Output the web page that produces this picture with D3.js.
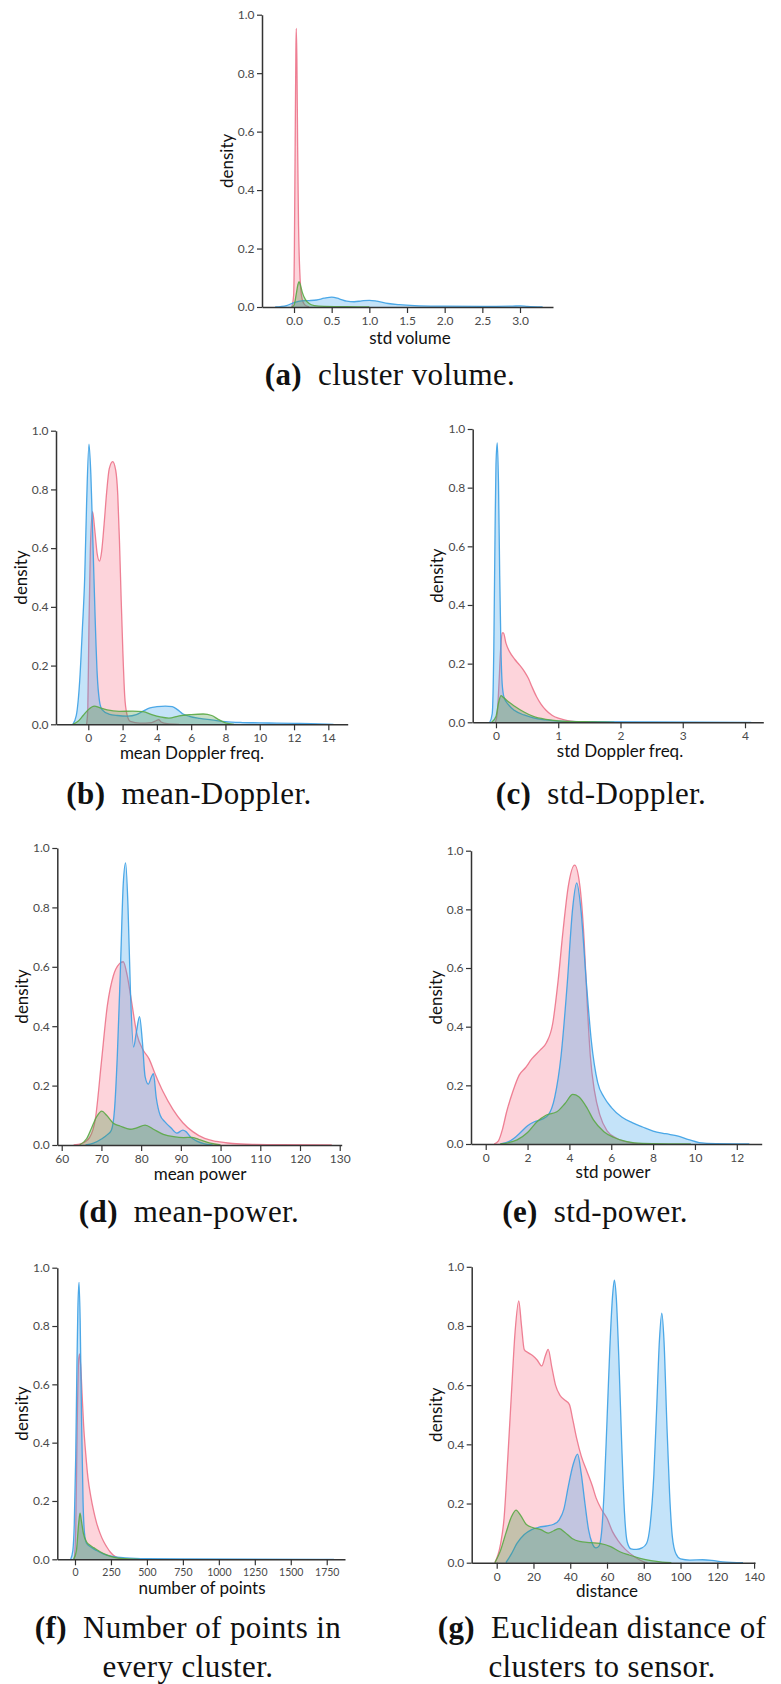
<!DOCTYPE html>
<html>
<head>
<meta charset="utf-8">
<script src="https://cdn.jsdelivr.net/npm/d3@7"></script>
<style>
  body { margin: 0; background: #fff; }
  svg { display: block; }
</style>
</head>
<body>
<svg id="fig" width="781" height="1684"></svg>
<script>
// ---- Kernel density estimates per class: [value, density] ----

// (a) std volume
const volPink  = [[-0.03,0],[-0.005,0.04],[0.005,0.2],[0.015,0.55],[0.025,0.88],[0.03,0.953],[0.038,0.85],[0.048,0.55],[0.06,0.28],[0.075,0.13],[0.09,0.06],[0.11,0.025],[0.14,0.008],[0.2,0]];
const volGreen = [[-0.03,0],[0.0,0.006],[0.03,0.045],[0.05,0.075],[0.066,0.087],[0.085,0.075],[0.11,0.05],[0.15,0.026],[0.2,0.012],[0.27,0.005],[0.4,0.002],[0.7,0.001],[1.0,0]];
const volBlue  = [[-0.25,0],[-0.1,0.005],[0.0,0.015],[0.1,0.021],[0.2,0.022],[0.3,0.024],[0.4,0.03],[0.5,0.034],[0.6,0.028],[0.7,0.02],[0.8,0.018],[0.9,0.021],[1.0,0.023],[1.1,0.02],[1.25,0.012],[1.4,0.008],[1.6,0.005],[2.0,0.003],[2.5,0.002],[2.9,0.003],[3.0,0.004],[3.1,0.002],[3.3,0]];

// (b) mean Doppler frequency
const mdBlue  = [[-0.9,0],[-0.7,0.03],[-0.5,0.15],[-0.35,0.32],[-0.21,0.5],[-0.1,0.75],[0.04,0.954],[0.15,0.85],[0.27,0.62],[0.4,0.36],[0.52,0.17],[0.65,0.08],[0.8,0.05],[1.2,0.035],[1.7,0.03],[2.3,0.028],[2.8,0.033],[3.2,0.045],[3.6,0.056],[4.0,0.06],[4.5,0.062],[4.9,0.06],[5.2,0.05],[5.5,0.036],[5.9,0.027],[6.5,0.02],[7.2,0.015],[8,0.009],[9,0.006],[10,0.005],[11,0.004],[12,0.003],[13,0.002],[14.3,0]];
const mdPink  = [[-0.1,0],[-0.03,0.05],[0.03,0.3],[0.12,0.6],[0.25,0.724],[0.38,0.66],[0.52,0.58],[0.65,0.556],[0.78,0.59],[0.92,0.68],[1.07,0.79],[1.22,0.87],[1.42,0.895],[1.6,0.865],[1.72,0.78],[1.82,0.62],[1.92,0.42],[2.02,0.24],[2.12,0.1],[2.25,0.035],[2.45,0.01],[3.0,0.004],[3.7,0.006],[3.95,0.012],[4.1,0.016],[4.25,0.008],[4.6,0.002],[5.3,0]];
const mdGreen = [[-0.9,0],[-0.6,0.01],[-0.3,0.03],[0.0,0.05],[0.35,0.062],[0.7,0.056],[1.1,0.049],[1.8,0.044],[2.6,0.045],[3.2,0.043],[3.7,0.033],[4.2,0.025],[4.7,0.021],[5.3,0.029],[6.0,0.033],[6.7,0.035],[7.2,0.03],[7.6,0.016],[8.0,0.005],[8.5,0]];

// (c) std Doppler frequency
const sdBlue  = [[-0.1,0],[-0.06,0.03],[-0.035,0.25],[-0.015,0.65],[0.0,0.88],[0.02,0.953],[0.04,0.82],[0.06,0.5],[0.08,0.25],[0.1,0.13],[0.13,0.085],[0.2,0.06],[0.3,0.04],[0.45,0.025],[0.6,0.015],[0.8,0.008],[1.0,0.004],[1.5,0.002],[2.5,0.001],[4.1,0]];
const sdPink  = [[-0.01,0],[0.02,0.03],[0.05,0.14],[0.075,0.25],[0.1,0.305],[0.12,0.305],[0.16,0.27],[0.22,0.24],[0.3,0.215],[0.38,0.195],[0.46,0.172],[0.52,0.15],[0.58,0.12],[0.65,0.088],[0.72,0.063],[0.8,0.042],[0.9,0.024],[1.0,0.014],[1.1,0.008],[1.2,0.004],[1.4,0.001],[1.6,0]];
const sdGreen = [[-0.07,0],[0.0,0.02],[0.04,0.065],[0.08,0.091],[0.12,0.085],[0.2,0.07],[0.3,0.055],[0.45,0.035],[0.6,0.02],[0.8,0.01],[1.0,0.005],[1.4,0.002],[1.9,0]];

// (d) mean power
const mpBlue  = [[66,0],[68,0.006],[70,0.02],[71.5,0.035],[72.5,0.05],[73.3,0.12],[74,0.3],[74.8,0.6],[75.5,0.88],[76.1,0.95],[76.7,0.8],[77.3,0.52],[78.1,0.33],[78.8,0.38],[79.6,0.432],[80.3,0.35],[81,0.23],[81.8,0.205],[82.6,0.23],[83.1,0.24],[83.8,0.16],[84.8,0.1],[86,0.078],[87.5,0.058],[89,0.04],[90.5,0.05],[91.3,0.045],[92.5,0.026],[94,0.013],[96,0.004],[98,0]];
const mpPink  = [[63,0],[65,0.005],[67,0.025],[68.5,0.09],[70,0.28],[71.5,0.47],[73,0.57],[74.5,0.61],[75.5,0.617],[76.5,0.57],[77.5,0.49],[79,0.37],[80.5,0.32],[82,0.29],[83.5,0.24],[85.5,0.18],[88,0.12],[90.5,0.075],[93,0.045],[96,0.022],[99,0.012],[103,0.005],[108,0.002],[115,0.001],[128,0]];
const mpGreen = [[64.5,0],[66.3,0.022],[67.6,0.06],[68.8,0.095],[70.1,0.114],[71.3,0.1],[73,0.073],[74.7,0.064],[77.2,0.053],[78.9,0.058],[81,0.067],[83.1,0.053],[85.6,0.036],[88.2,0.028],[90.7,0.025],[92.8,0.026],[94.9,0.017],[97.4,0.006],[100,0]];

// (e) std power
const spPink  = [[0.4,0],[0.6,0.01],[0.8,0.05],[1.0,0.11],[1.3,0.18],[1.6,0.235],[1.9,0.26],[2.2,0.29],[2.6,0.32],[2.9,0.345],[3.2,0.41],[3.45,0.55],[3.7,0.73],[3.95,0.88],[4.25,0.951],[4.5,0.88],[4.7,0.7],[4.85,0.48],[5.0,0.3],[5.2,0.18],[5.45,0.1],[5.8,0.045],[6.3,0.018],[6.9,0.005],[7.5,0]];
const spBlue  = [[0.7,0],[1.2,0.012],[1.6,0.035],[2.0,0.062],[2.3,0.075],[2.7,0.085],[3.0,0.1],[3.3,0.16],[3.6,0.3],[3.9,0.55],[4.15,0.8],[4.35,0.89],[4.55,0.8],[4.8,0.56],[5.05,0.35],[5.35,0.21],[5.65,0.16],[6.0,0.125],[6.5,0.092],[7.0,0.073],[7.5,0.058],[8.0,0.044],[8.6,0.035],[9.2,0.027],[9.7,0.015],[10.2,0.005],[11,0.001],[12.6,0]];
const spGreen = [[0.7,0],[1.5,0.014],[2.0,0.039],[2.45,0.076],[2.9,0.099],[3.4,0.11],[3.8,0.139],[4.16,0.169],[4.45,0.161],[4.85,0.122],[5.15,0.082],[5.65,0.042],[6.1,0.023],[6.75,0.008],[7.5,0.002],[9.8,0]];

// (f) number of points
const npBlue  = [[-30,0],[-15,0.03],[-5,0.12],[5,0.35],[13,0.65],[20,0.86],[28,0.95],[36,0.82],[46,0.47],[56,0.2],[66,0.09],[80,0.055],[110,0.042],[150,0.03],[200,0.018],[260,0.01],[350,0.005],[500,0.002],[800,0.001],[1800,0]];
const npPink  = [[-5,0],[5,0.1],[15,0.45],[25,0.68],[32,0.704],[40,0.66],[50,0.56],[60,0.46],[75,0.36],[90,0.28],[110,0.215],[130,0.165],[150,0.125],[175,0.088],[200,0.06],[220,0.043],[245,0.025],[265,0.015],[300,0.005],[340,0.001],[400,0]];
const npGreen = [[-10,0],[10,0.03],[25,0.12],[35,0.158],[45,0.13],[58,0.09],[80,0.06],[105,0.048],[130,0.04],[175,0.026],[220,0.015],[280,0.006],[350,0.002],[450,0]];

// (g) distance to sensor
const dsPink  = [[-1,0],[2,0.06],[4,0.15],[6,0.35],[8,0.57],[10,0.78],[12,0.885],[13.5,0.8],[15,0.72],[17,0.71],[19.5,0.7],[22,0.685],[24.5,0.665],[26.5,0.7],[28,0.721],[30,0.66],[32,0.6],[34.5,0.565],[37,0.55],[39.5,0.535],[41.5,0.48],[43.5,0.42],[46,0.36],[49,0.31],[52,0.26],[54,0.22],[57,0.18],[60,0.15],[63,0.105],[66,0.075],[70,0.045],[75,0.02],[80,0.003],[82,0]];
const dsBlue  = [[5,0],[8,0.03],[11,0.065],[15,0.095],[19,0.112],[23,0.12],[27,0.124],[31,0.13],[34,0.145],[36.5,0.18],[39,0.26],[41.5,0.33],[44,0.367],[46,0.3],[48,0.2],[50,0.11],[52,0.065],[54,0.05],[55.5,0.055],[57,0.1],[58.5,0.25],[60,0.48],[61.5,0.72],[63,0.9],[64,0.955],[65,0.9],[66.5,0.68],[68,0.4],[69.5,0.17],[71,0.07],[73,0.047],[76,0.045],[79,0.05],[81.5,0.065],[83.5,0.13],[85.5,0.3],[87,0.52],[88.5,0.75],[89.8,0.843],[91,0.75],[92.5,0.48],[94,0.24],[95.5,0.09],[97.5,0.03],[100,0.013],[105,0.009],[112,0.01],[117,0.008],[123,0.003],[134,0]];
const dsGreen = [[-1,0],[2,0.04],[5,0.1],[8,0.155],[10.5,0.178],[13,0.16],[16,0.13],[20,0.118],[24,0.112],[28,0.1],[31,0.108],[34,0.115],[37,0.103],[41,0.082],[45,0.072],[51,0.068],[56,0.065],[62,0.054],[67,0.037],[72,0.026],[78,0.015],[84,0.007],[90,0.002],[95,0]];

// ---- Tick values ----
const densityTicks = [0, 0.2, 0.4, 0.6, 0.8, 1.0];
const volTicks  = [0, 0.5, 1.0, 1.5, 2.0, 2.5, 3.0];
const mdTicks   = [0, 2, 4, 6, 8, 10, 12, 14];
const sdTicks   = [0, 1, 2, 3, 4];
const mpTicks   = [60, 70, 80, 90, 100, 110, 120, 130];
const spTicks   = [0, 2, 4, 6, 8, 10, 12];
const npTicks   = [0, 250, 500, 750, 1000, 1250, 1500, 1750];
const dsTicks   = [0, 20, 40, 60, 80, 100, 120, 140];

// ---- Class colours: fill / outline ----
const fillColors = { pink: "#f77189", green: "#46963f", blue: "#3ba3ec" };
const lineColors = { pink: "#ec7389", green: "#5aa845", blue: "#3ba0e4" };
const drawOrder = ["pink", "blue", "green"];

// ---- Panel layout ----
const panels = [
  { xLabel: "std volume", ticks: volTicks, fmt: d3.format(".1f"), domain: [-0.425, 3.438],
    box: { l: 262, r: 553, t: 14.7, b: 307 }, xlabX: 410, xlabDy: 37,
    series: { pink: volPink, green: volGreen, blue: volBlue },
    cap: { x: 390, ys: [385], tag: "(a)", lines: ["cluster volume."] } },
  { xLabel: "mean Doppler freq.", ticks: mdTicks, fmt: d3.format("d"), domain: [-1.884, 15.13],
    box: { l: 56, r: 347.7, t: 430.7, b: 724.3 }, xlabX: 192, xlabDy: 35,
    series: { pink: mdPink, green: mdGreen, blue: mdBlue },
    cap: { x: 189, ys: [804], tag: "(b)", lines: ["mean-Doppler."] } },
  { xLabel: "std Doppler freq.", ticks: sdTicks, fmt: d3.format("d"), domain: [-0.374, 4.294],
    box: { l: 472.7, r: 763.3, t: 429, b: 722.3 }, xlabX: 620, xlabDy: 35,
    series: { pink: sdPink, green: sdGreen, blue: sdBlue },
    cap: { x: 601, ys: [804], tag: "(c)", lines: ["std-Doppler."] } },
  { xLabel: "mean power", ticks: mpTicks, fmt: d3.format("d"), domain: [58.89, 130.5],
    box: { l: 57.3, r: 341.7, t: 848, b: 1145 }, xlabX: 200, xlabDy: 35,
    series: { pink: mpPink, green: mpGreen, blue: mpBlue },
    cap: { x: 189, ys: [1222], tag: "(d)", lines: ["mean-power."] } },
  { xLabel: "std power", ticks: spTicks, fmt: d3.format("d"), domain: [-0.703, 13.19],
    box: { l: 471, r: 761.7, t: 850.7, b: 1144 }, xlabX: 613, xlabDy: 34,
    series: { pink: spPink, green: spGreen, blue: spBlue },
    cap: { x: 595, ys: [1222], tag: "(e)", lines: ["std-power."] } },
  { xLabel: "number of points", ticks: npTicks, fmt: d3.format("d"), domain: [-123, 1877],
    box: { l: 57.3, r: 345, t: 1267.7, b: 1559.3 }, xlabX: 202, xlabDy: 35, tickFont: 10.5,
    series: { pink: npPink, green: npGreen, blue: npBlue },
    cap: { x: 188, ys: [1638, 1677], tag: "(f)", lines: ["Number of points in", "every cluster."] } },
  { xLabel: "distance", ticks: dsTicks, fmt: d3.format("d"), domain: [-13.6, 140.5],
    box: { l: 471.7, r: 755, t: 1266.8, b: 1562.7 }, xlabX: 607, xlabDy: 34,
    series: { pink: dsPink, green: dsGreen, blue: dsBlue },
    cap: { x: 602, ys: [1638, 1677], tag: "(g)", lines: ["Euclidean distance of", "clusters to sensor."] } }
];

const svg = d3.select("#fig");
const sansFont = "Lato, 'Open Sans', 'DejaVu Sans', sans-serif";
const serifFont = "'Liberation Serif', 'DejaVu Serif', serif";

panels.forEach(p => {
  const x = d3.scaleLinear().domain(p.domain).range([p.box.l, p.box.r]);
  const y = d3.scaleLinear().domain([0, 1]).range([p.box.b, p.box.t]);
  const g = svg.append("g");

  const area = d3.area()
    .x(d => x(d[0])).y0(y(0)).y1(d => y(d[1]))
    .curve(d3.curveMonotoneX);
  const line = d3.line()
    .x(d => x(d[0])).y(d => y(d[1]))
    .curve(d3.curveMonotoneX);

  drawOrder.forEach(k => {
    const data = p.series[k];
    g.append("path").datum(data)
      .attr("d", area)
      .attr("fill", fillColors[k]).attr("fill-opacity", 0.3).attr("stroke", "none");
    g.append("path").datum(data)
      .attr("d", line)
      .attr("fill", "none").attr("stroke", lineColors[k])
      .attr("stroke-width", 1.3).attr("stroke-opacity", 0.9);
  });

  // axes
  const xAxis = d3.axisBottom(x).tickValues(p.ticks).tickFormat(p.fmt)
    .tickSize(6).tickPadding(3.5).tickSizeOuter(0);
  const yAxis = d3.axisLeft(y).tickValues(densityTicks).tickFormat(d3.format(".1f"))
    .tickSize(5).tickPadding(2.5).tickSizeOuter(0);

  const gx = g.append("g").attr("transform", `translate(0,${p.box.b})`).call(xAxis);
  const gy = g.append("g").attr("transform", `translate(${p.box.l},0)`).call(yAxis);

  [gx, gy].forEach(ax => {
    ax.select(".domain").attr("stroke", "#333").attr("stroke-width", 1.5);
    ax.selectAll(".tick line").attr("stroke", "#333").attr("stroke-width", 1.2);
    ax.selectAll(".tick text").attr("fill", "#4a4a4a")
      .style("font-family", sansFont).style("font-size", "12px");
  });
  if (p.tickFont) gx.selectAll(".tick text").style("font-size", p.tickFont + "px");

  // axis labels
  g.append("text")
    .attr("x", p.xlabX).attr("y", p.box.b + p.xlabDy)
    .attr("text-anchor", "middle")
    .style("font-family", sansFont).style("font-size", "17px").attr("fill", "#111")
    .text(p.xLabel);
  g.append("text")
    .attr("transform", `translate(${p.box.l - 36},${(p.box.t + p.box.b) / 2}) rotate(-90)`)
    .attr("text-anchor", "middle").attr("dominant-baseline", "central")
    .style("font-family", sansFont).style("font-size", "17px").attr("fill", "#111")
    .text("density");

  // sub-figure caption
  p.cap.lines.forEach((ln, i) => {
    const t = svg.append("text")
      .attr("x", p.cap.x).attr("y", p.cap.ys[i])
      .attr("text-anchor", "middle")
      .style("font-family", serifFont).style("font-size", "31px")
      .style("letter-spacing", "0.4px").attr("fill", "#111");
    if (i === 0) {
      t.append("tspan").style("font-weight", "bold").text(p.cap.tag);
      t.append("tspan").attr("dx", 16).text(ln);
    } else {
      t.text(ln);
    }
  });
});
</script>
</body>
</html>
